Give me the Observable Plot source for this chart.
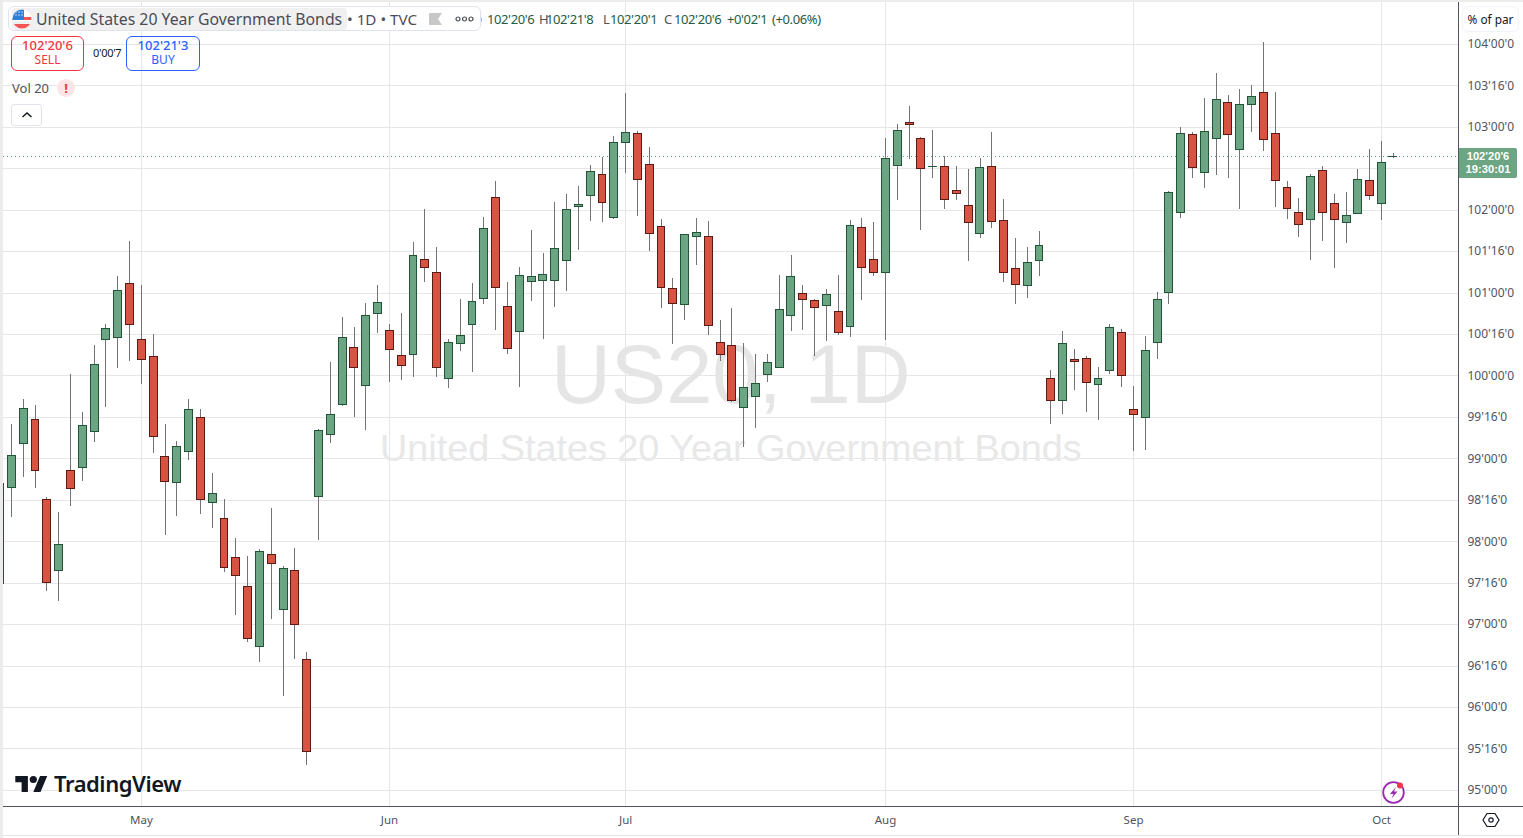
<!DOCTYPE html>
<html>
<head>
<meta charset="utf-8">
<script src="https://cdn.jsdelivr.net/npm/d3@7"></script>
<script src="https://cdn.jsdelivr.net/npm/@observablehq/plot@0.6"></script>
<style>
html,body{margin:0;padding:0;background:#fff;overflow:hidden}
#wrap{position:relative;width:1523px;height:838px;font-family:"Noto Sans",sans-serif;overflow:hidden}
#wrap svg.plot{position:absolute;left:0;top:0}
.o{position:absolute;white-space:nowrap;box-sizing:border-box}
</style>
</head>
<body>
<div id="wrap">
<div id="chart"></div>
<div class="o" style="left:0;top:0;width:3px;height:838px;background:#ececec"></div>
<div class="o" style="left:0;top:0;width:1523px;height:2px;background:#ececec"></div>
<div class="o" style="left:0;top:835px;width:1523px;height:1px;background:#e6e6e6"></div>
<div class="o" style="left:1458px;top:2px;width:1px;height:833px;background:#50535e"></div>
<div class="o" style="left:3px;top:806px;width:1520px;height:1px;background:#50535e"></div>

<div class="o" style="left:472px;top:10px;font-size:13px;line-height:18px;color:#245c3f">O</div>
<div class="o" style="left:8px;top:6px;width:473px;height:25px;border:1px solid #e0e3eb;border-radius:6px;background:#fff"></div>
<div class="o" style="left:12px;top:8px;width:335px;height:22px;background:#f0f0f0;border-radius:4px"></div>
<svg class="o" style="left:12px;top:9px" width="20" height="20" viewBox="0 0 20 20">
<defs><clipPath id="fc"><circle cx="10" cy="10" r="9.5"/></clipPath></defs>
<g clip-path="url(#fc)"><rect width="20" height="20" fill="#fff"/><rect y="12" width="20" height="3" fill="#f0f0f0"/><rect y="15" width="20" height="5" fill="#f25555"/><rect y="8" width="20" height="3" fill="#f25555"/><rect width="12" height="11" fill="#2e7fd8"/>
<g fill="#cfe4fa"><circle cx="4" cy="3" r=".8"/><circle cx="7" cy="3" r=".8"/><circle cx="10" cy="3" r=".8"/><circle cx="4" cy="6" r=".8"/><circle cx="7" cy="6" r=".8"/><circle cx="10" cy="6" r=".8"/></g></g></svg>
<div class="o" style="left:36px;top:9px;font-size:15.8px;line-height:20px;color:#4a4c55">United States 20 Year Government Bonds</div>
<div class="o" style="left:347px;top:9px;font-size:15.2px;line-height:20px;color:#4a4c55">• 1D • TVC</div>
<svg class="o" style="left:429px;top:13px" width="13" height="12"><path d="M0 0H13L9 6L13 12H0Z" fill="#c8c8c8"/></svg>
<svg class="o" style="left:455px;top:15px" width="19" height="8"><g fill="none" stroke="#4a4c55" stroke-width="1.2"><circle cx="3" cy="4" r="2"/><circle cx="9.5" cy="4" r="2"/><circle cx="16" cy="4" r="2"/></g></svg>
<div class="o" style="left:481px;top:10px;font-size:13px;line-height:18px;color:#245c3f;letter-spacing:-.4px"><span style="position:absolute;left:6px">102'20'6</span><span style="position:absolute;left:58px;color:#50535e">H</span><span style="position:absolute;left:65px">102'21'8</span><span style="position:absolute;left:122px;color:#50535e">L</span><span style="position:absolute;left:129px">102'20'1</span><span style="position:absolute;left:183px;color:#50535e">C</span><span style="position:absolute;left:193px">102'20'6</span><span style="position:absolute;left:246px">+0'02'1</span><span style="position:absolute;left:291px">(+0.06%)</span></div>

<div class="o" style="left:11px;top:36px;width:73px;height:35px;border:1px solid #f23645;border-radius:6px;color:#f23645;text-align:center"><div style="font-size:13px;line-height:16px;font-weight:500">102'20'6</div><div style="font-size:12px;line-height:14px">SELL</div></div>
<div class="o" style="left:93px;top:45px;font-size:11px;line-height:16px;color:#131722;letter-spacing:-.3px">0'00'7</div>
<div class="o" style="left:126px;top:36px;width:74px;height:35px;border:1px solid #2962ff;border-radius:6px;color:#2962ff;text-align:center"><div style="font-size:13px;line-height:16px;font-weight:500">102'21'3</div><div style="font-size:12px;line-height:14px">BUY</div></div>
<div class="o" style="left:12px;top:79px;font-size:13px;line-height:18px;color:#50535e">Vol 20</div>
<div class="o" style="left:57px;top:79px;width:18px;height:18px;border-radius:9px;background:#fde4e6;color:#f23645;font-size:13px;line-height:18px;text-align:center;font-weight:700">!</div>
<div class="o" style="left:11px;top:104px;width:31px;height:22px;border:1px solid #e0e3eb;border-radius:3px;background:#fff"></div>
<svg class="o" style="left:21px;top:111px" width="12" height="8"><path d="M1.5 6L6 2L10.5 6" fill="none" stroke="#131722" stroke-width="1.5"/></svg>

<div class="o" style="left:1462px;top:6px;width:57px;height:26px;border:1px solid #f0f3fa;border-radius:6px;background:#fff;font-size:11.8px;line-height:24px;text-align:center;color:#131722">% of par</div>
<div class="o" style="left:1459px;top:148px;width:58px;height:30px;background:#6ba583;border-radius:0 2px 2px 0;color:#fff;font-family:'Liberation Sans',Arial,sans-serif;font-size:11.2px;line-height:13px;text-align:center;padding-top:2px;font-weight:700">102'20'6<br>19:30:01</div>

<svg class="o" style="left:15px;top:775px" width="33" height="18" viewBox="0 3 36 20"><path d="M14 22H7V11H0V4h14v18zM28 22h-8l7.5-18h8L28 22z" fill="#131722"/><circle cx="20" cy="8" r="4" fill="#131722"/></svg>
<div class="o" style="left:54px;top:768px;font-size:22px;line-height:30px;font-weight:600;color:#131722;letter-spacing:-.45px">TradingView</div>

<svg class="o" style="left:1381px;top:780px" width="26" height="26"><circle cx="12.5" cy="12.5" r="10.3" fill="#fff" stroke="#9c27b0" stroke-width="1.8"/><path d="M15 7L9 14H12.5L10.5 18.5L16.5 11.5H13Z" fill="#9c27b0"/><circle cx="19" cy="5.5" r="3" fill="#f23645"/></svg>
<svg class="o" style="left:1482px;top:811px" width="18" height="18"><path d="M5 2.5H13L17 9L13 15.5H5L1 9Z" fill="none" stroke="#131722" stroke-width="1.2"/><circle cx="9" cy="9" r="2.2" fill="none" stroke="#131722" stroke-width="1.2"/></svg>
</div>
<script>
const opens = [97.499,98.654,99.185,99.474,98.509,97.652,98.859,98.895,99.330,100.440,
100.464,101.116,100.440,100.235,99.028,98.714,99.088,99.499,98.473,98.280,
97.809,97.459,96.735,97.845,97.181,97.652,96.578,98.545,99.293,99.656,
100.343,99.885,100.754,100.549,100.247,100.259,101.405,101.249,99.969,100.392,
100.621,100.935,102.154,100.838,100.537,101.140,101.152,101.152,101.393,102.045,
102.178,102.431,101.912,102.818,102.926,102.552,101.804,101.056,100.862,101.683,
101.683,100.404,100.368,99.619,99.752,100.018,100.102,100.730,100.995,100.911,
100.850,100.778,100.597,101.792,101.405,101.249,102.540,103.059,102.866,102.528,
102.528,102.233,102.057,101.719,102.528,101.876,101.297,101.092,101.393,99.969,
99.704,100.199,100.211,99.897,100.066,100.524,99.595,99.499,100.404,101.007,
101.973,102.914,102.456,102.866,103.300,102.733,103.276,103.421,102.926,102.274,
101.973,101.888,102.480,102.081,101.852,101.961,102.359,102.081,102.644];
const highs = [98.75,99.418,99.720,99.647,98.537,98.356,100.021,99.563,100.371,100.625,
101.204,101.626,101.095,100.504,99.418,99.213,99.720,99.599,98.826,98.513,
98.042,97.825,97.905,98.404,97.704,97.921,96.666,99.354,100.166,100.709,
100.588,100.878,101.095,100.625,100.757,101.614,102.013,101.554,100.444,100.926,
101.119,101.916,102.350,101.132,101.313,101.759,101.482,102.097,102.194,102.290,
102.544,102.632,102.894,103.413,102.950,102.761,101.892,101.180,101.707,101.904,
101.868,100.673,100.818,100.395,100.263,100.263,101.216,101.457,101.095,100.923,
101.047,101.216,101.880,101.904,101.856,102.869,103.038,103.256,102.878,102.966,
102.649,102.532,102.495,102.628,102.942,102.133,101.663,101.554,101.747,100.069,
100.540,100.323,100.238,100.106,100.625,100.564,99.876,100.480,101.011,102.230,
102.999,102.938,103.352,103.654,103.388,103.461,103.509,104.028,103.425,102.350,
102.145,102.431,102.532,102.194,102.218,102.495,102.737,102.833,102.680];
const lows = [97.45,98.287,98.770,98.637,97.394,97.273,98.420,98.721,99.192,99.615,
100.085,100.170,99.892,99.059,98.070,98.299,98.975,98.323,98.154,97.623,
97.113,96.790,96.549,97.056,96.127,96.585,95.306,98.009,99.180,99.631,
99.494,99.337,100.508,99.916,99.940,99.977,101.123,99.977,99.844,100.290,
100.037,100.866,100.544,100.254,99.856,100.894,100.435,100.821,101.014,101.509,
101.859,101.847,101.883,102.439,101.920,101.497,100.809,100.375,100.665,101.328,
100.483,100.170,99.683,99.140,99.361,99.916,100.094,100.532,100.544,100.230,
100.411,100.488,100.459,100.906,101.195,100.423,102.113,102.612,101.751,102.378,
102.004,102.113,101.377,101.663,101.775,101.123,100.858,100.930,101.195,99.409,
99.530,99.820,99.554,99.458,100.013,99.856,99.083,99.096,100.194,100.858,
101.896,102.378,102.258,102.414,102.378,102.004,102.933,102.704,102.028,101.883,
101.666,101.389,101.618,101.292,101.594,101.952,102.113,101.871,102.628];
const closes = [98.706,99.040,99.607,98.859,97.507,97.966,98.642,99.402,100.138,100.573,
101.031,100.621,100.199,99.269,98.726,99.149,99.595,98.509,98.581,97.688,
97.587,96.831,97.881,97.737,97.676,97.000,95.468,99.342,99.535,100.464,
100.102,100.730,100.887,100.319,100.126,101.454,101.309,100.102,100.404,100.488,
100.899,101.780,101.068,100.331,101.212,101.200,101.224,101.538,102.009,102.069,
102.468,102.093,102.818,102.938,102.371,101.719,101.068,100.874,101.707,101.731,
100.609,100.259,99.704,99.861,99.909,100.162,100.802,101.200,100.923,100.826,
100.983,100.524,101.816,101.309,101.249,102.624,102.962,103.035,102.504,102.528,
102.130,102.197,101.852,102.516,101.864,101.249,101.104,101.369,101.574,99.704,
100.392,100.174,99.921,99.969,100.585,100.006,99.535,100.307,100.923,102.214,
102.926,102.516,102.950,103.337,102.914,103.276,103.373,102.854,102.359,102.021,
101.828,102.407,101.973,101.888,101.937,102.371,102.178,102.576,102.644];

const monthNames = ["May","Jun","Jul","Aug","Sep","Oct"];
const monthBars = [12,33,53,75,96,117];
const priceTicks = [95,95.5,96,96.5,97,97.5,98,98.5,99,99.5,100,100.5,101,101.5,102,102.5,103,103.5,104];
const labelledTicks = [95,95.5,96,96.5,97,97.5,98,98.5,99,99.5,100,100.5,101,101.5,102,103,103.5,104];
const priceLabels = ["95'00'0","95'16'0","96'00'0","96'16'0","97'00'0","97'16'0","98'00'0","98'16'0","99'00'0","99'16'0","100'00'0","100'16'0","101'00'0","101'16'0","102'00'0","103'00'0","103'16'0","104'00'0"];
const lastPrice = 102.644;

const bars = opens.map((o,i)=>({i,open:o,high:highs[i],low:lows[i],close:closes[i]}));
const up = bars.filter(d=>d.close>d.open);
const down = bars.filter(d=>d.close<d.open);
const flat = bars.filter(d=>d.close===d.open);
const half = 0.335;
const body = (rows,fill,stroke)=>Plot.rect(rows,{x1:d=>d.i-half,x2:d=>d.i+half,y1:"open",y2:"close",fill,stroke,strokeWidth:1,dx:0.4,dy:0.3,shapeRendering:"crispEdges",clip:true});

const chart = Plot.plot({
  width:1523,height:838,
  marginLeft:3,marginRight:64,marginTop:2,marginBottom:32,
  style:{fontFamily:'"Noto Sans",sans-serif',background:"#fff"},
  x:{type:"linear",domain:[0,118],range:[-0.8,1392.9]},
  y:{type:"linear",domain:[95,104],range:[789.9,43.9]},
  marks:[
    Plot.gridY(priceTicks,{stroke:"#e6e6e6",strokeOpacity:1,strokeWidth:1,shapeRendering:"crispEdges"}),
    Plot.gridX(monthBars,{stroke:"#e6e6e6",strokeOpacity:1,strokeWidth:1,shapeRendering:"crispEdges"}),
    Plot.axisY(labelledTicks,{anchor:"right",tickSize:0,tickPadding:8,label:null,fontSize:12,fill:"#50535e",style:{letterSpacing:"-0.2px"},tickFormat:v=>priceLabels[labelledTicks.indexOf(v)]}),
    Plot.axisX(monthBars,{anchor:"bottom",tickSize:0,tickPadding:9,label:null,fontSize:11.5,fill:"#50535e",tickFormat:v=>monthNames[monthBars.indexOf(v)]}),
    Plot.text(["US20, 1D"],{x:[61.9],y:[99.99],text:d=>d,fontSize:83,fontFamily:'"Liberation Sans",Arial,sans-serif',fill:"#e5e5e5"}),
    Plot.text(["United States 20 Year Government Bonds"],{x:[61.9],y:[99.12],text:d=>d,fontSize:37.8,fontFamily:'"Liberation Sans",Arial,sans-serif',fill:"#e8e8e8"}),
    Plot.ruleY([lastPrice],{stroke:"#3f9a74",strokeOpacity:.9,strokeDasharray:"1 3",strokeWidth:1,shapeRendering:"crispEdges"}),
    Plot.ruleX(bars,{x:"i",y1:"low",y2:"high",stroke:"#737375",strokeWidth:1,shapeRendering:"crispEdges",clip:true}),
    body(up,"#6ba583","#225437"),
    body(down,"#d75442","#5b1a13"),
    Plot.ruleY(flat,{x1:d=>d.i-half-.05,x2:d=>d.i+half+.05,y:"close",stroke:"#225437",strokeWidth:1,shapeRendering:"crispEdges"})
  ]
});
document.getElementById("chart").appendChild(chart);
</script>
</body>
</html>
